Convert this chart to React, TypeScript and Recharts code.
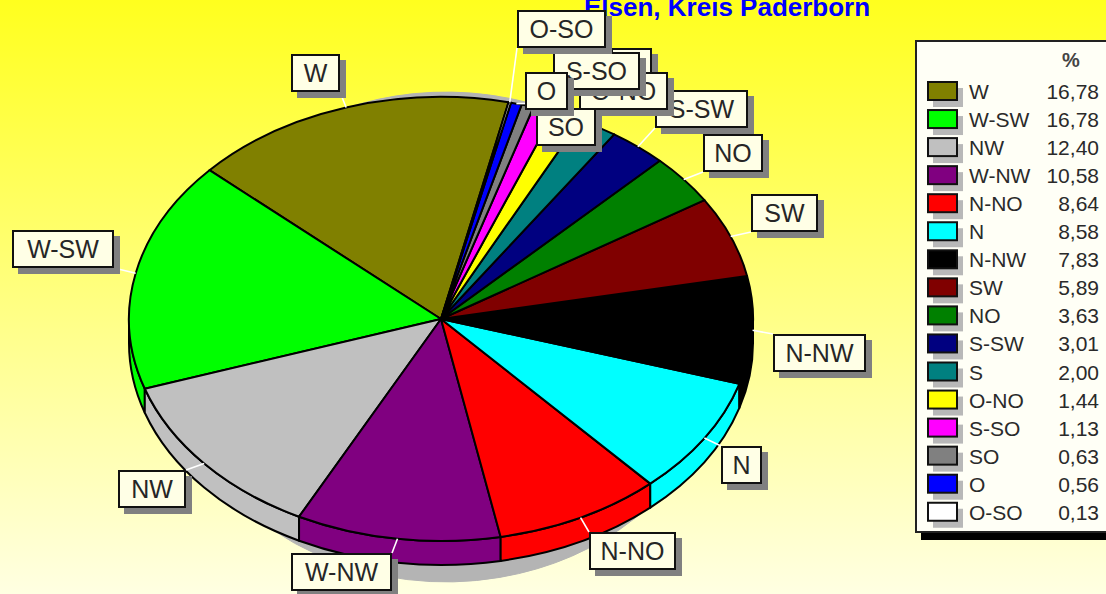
import { Legend, Pie, PieChart } from "recharts";

const CHART_WIDTH = 1106;
const CHART_HEIGHT = 594;
const FONT = '"Liberation Sans", Arial, sans-serif';

const categories = ["W", "W-SW", "NW", "W-NW", "N-NO", "N", "N-NW", "SW", "NO", "S-SW", "S", "O-NO", "S-SO", "SO", "O", "O-SO"];
const shares = [16.78, 16.78, 12.4, 10.58, 8.64, 8.58, 7.83, 5.89, 3.63, 3.01, 2.0, 1.44, 1.13, 0.63, 0.56, 0.13];
const shareLabels = ["16,78", "16,78", "12,40", "10,58", "8,64", "8,58", "7,83", "5,89", "3,63", "3,01", "2,00", "1,44", "1,13", "0,63", "0,56", "0,13"];
const colors = ["#808000", "#00ff00", "#c0c0c0", "#800080", "#ff0000", "#00ffff", "#000000", "#800000", "#008000", "#000080", "#008080", "#ffff00", "#ff00ff", "#808080", "#0000ff", "#ffffff"];

const title = "Elsen, Kreis Paderborn";

const rows = categories.map((name, i) => ({ name, value: shares[i], fill: colors[i] }));

// Where the callout boxes sit: the original shoves them around to avoid overlaps [x, y, width]
const labelBoxes: Record<string, [number, number, number]> = {
  W: [291, 54, 49],
  "W-SW": [12, 230, 102],
  NW: [118, 470, 68],
  "W-NW": [291, 553, 101],
  "N-NO": [589, 532, 87],
  N: [721, 446, 41],
  "N-NW": [773, 334, 93],
  SW: [751, 194, 67],
  NO: [703, 134, 60],
  "S-SW": [655, 90, 93],
  S: [611, 48, 41],
  "O-NO": [579, 72, 89],
  "S-SO": [553, 52, 87],
  SO: [536, 108, 60],
  O: [525, 72, 43],
  "O-SO": [517, 10, 89],
};
const LABEL_HEIGHT = 38;

// The pie is tilted, so the circle from Recharts is squashed into an ellipse
const SQUASH = 222 / 312;
const DEPTH = 24;

function onEllipse(cx: number, cy: number, rx: number, ry: number, deg: number) {
  const rad = (deg * Math.PI) / 180;
  return { x: cx + rx * Math.cos(rad), y: cy - ry * Math.sin(rad) };
}

function wedgePath(cx: number, cy: number, rx: number, ry: number, start: number, end: number) {
  const a = onEllipse(cx, cy, rx, ry, start);
  const b = onEllipse(cx, cy, rx, ry, end);
  const large = end - start > 180 ? 1 : 0;
  return `M${cx},${cy} L${a.x},${a.y} A${rx},${ry} 0 ${large} 0 ${b.x},${b.y} Z`;
}

function TopFace(props: any) {
  const { cx, cy, outerRadius, startAngle, endAngle, fill } = props;
  const d = wedgePath(cx, cy, outerRadius, outerRadius * SQUASH, startAngle, endAngle);
  return <path d={d} fill={fill} stroke="#000" strokeWidth={2} strokeLinejoin="round" />;
}

// Side wall, only for the part of the slice that faces the viewer (180-360 deg)
function SideWall(props: any) {
  const { cx, cy, outerRadius, startAngle, endAngle, fill } = props;
  const from = Math.max(startAngle, 180);
  const to = Math.min(endAngle, 360);
  if (to <= from) return <g />;
  const rx = outerRadius;
  const ry = outerRadius * SQUASH;
  const a = onEllipse(cx, cy, rx, ry, from);
  const b = onEllipse(cx, cy, rx, ry, to);
  const d = `M${a.x},${a.y} A${rx},${ry} 0 0 0 ${b.x},${b.y} L${b.x},${b.y + DEPTH} A${rx},${ry} 0 0 1 ${a.x},${a.y + DEPTH} Z`;
  return <path d={d} fill={fill} stroke="#000" strokeWidth={2} strokeLinejoin="round" />;
}

function DropShadow(props: any) {
  const { cx, cy, outerRadius, startAngle, endAngle } = props;
  const d = wedgePath(cx + 5, cy + 18, outerRadius * 0.9, outerRadius * 0.785, startAngle, endAngle);
  return <path d={d} fill="#b4b4b4" stroke="#b4b4b4" strokeWidth={1} />;
}

function Callout(props: any) {
  const { cx, cy, outerRadius, midAngle, name } = props;
  const [x, y, w] = labelBoxes[name];
  const edge = onEllipse(cx, cy, outerRadius, outerRadius * SQUASH, midAngle);
  // leader runs to the closest point of the box
  const endX = Math.min(Math.max(edge.x, x), x + w);
  const endY = Math.min(Math.max(edge.y, y), y + LABEL_HEIGHT);
  return (
    <g>
      <line x1={edge.x} y1={edge.y} x2={endX} y2={endY} stroke="#fff" strokeWidth={1.6} />
      <rect x={x + 6} y={y + 6} width={w} height={LABEL_HEIGHT} fill="#808080" />
      <rect x={x + 1} y={y + 1} width={w - 2} height={LABEL_HEIGHT - 2} fill="#ffffe6" stroke="#111" strokeWidth={2} />
      <text
        x={x + w / 2}
        y={y + 28}
        textAnchor="middle"
        fontFamily={FONT}
        fontSize={25}
        fill="#262626"
      >
        {name}
      </text>
    </g>
  );
}

function LegendBox() {
  return (
    <svg width={191} height={500} style={{ display: "block" }}>
      <rect x={6} y={8} width={185} height={492} fill="#000" />
      <rect x={1} y={1} width={195} height={491} fill="#fffff6" stroke="#222" strokeWidth={2} />
      <text x={156} y={27} textAnchor="middle" fontFamily={FONT} fontSize={20} fontWeight="bold" fill="#444">
        %
      </text>
      {categories.map((name, i) => {
        const top = 42 + i * 28.05;
        return (
          <g key={name}>
            <rect x={18} y={top + 6} width={30} height={19} fill="#b8b8b8" />
            <rect x={13} y={top} width={29} height={18} fill={colors[i]} stroke="#111" strokeWidth={2} />
            <text x={54} y={top + 17} fontFamily={FONT} fontSize={21} fill="#2a2a2a">
              {name}
            </text>
            <text x={184} y={top + 17} textAnchor="end" fontFamily={FONT} fontSize={21} fill="#2a2a2a">
              {shareLabels[i]}
            </text>
          </g>
        );
      })}
    </svg>
  );
}

export default function App() {
  return (
    <div
      style={{
        position: "fixed",
        left: 0,
        top: 0,
        width: CHART_WIDTH,
        height: CHART_HEIGHT,
        overflow: "hidden",
        background: "linear-gradient(to bottom, #ffff1e 0%, #ffffe2 100%)",
      }}
    >
      <PieChart width={CHART_WIDTH} height={CHART_HEIGHT} margin={{ top: 0, right: 0, bottom: 0, left: 0 }}>
        <text x={584} y={16} fontFamily={FONT} fontSize={26} fontWeight="bold" fill="#0000ff">
          {title}
        </text>
        <Legend
          content={() => <LegendBox />}
          layout="vertical"
          align="right"
          verticalAlign="top"
          wrapperStyle={{ position: "absolute", left: 915, top: 40, width: 191, height: 500 }}
        />
        <Pie
          data={rows}
          dataKey="value"
          nameKey="name"
          cx={441}
          cy={319}
          outerRadius={312}
          startAngle={77.5}
          endAngle={437.5}
          paddingAngle={0}
          shape={DropShadow}
          label={false}
          labelLine={false}
          legendType="none"
          isAnimationActive={false}
        />
        <Pie
          data={rows}
          dataKey="value"
          nameKey="name"
          cx={441}
          cy={319}
          outerRadius={312}
          startAngle={77.5}
          endAngle={437.5}
          shape={SideWall}
          label={false}
          labelLine={false}
          legendType="none"
          isAnimationActive={false}
        />
        <Pie
          data={rows}
          dataKey="value"
          nameKey="name"
          cx={441}
          cy={319}
          outerRadius={312}
          startAngle={77.5}
          endAngle={437.5}
          shape={TopFace}
          label={Callout}
          labelLine={false}
          isAnimationActive={false}
        />
      </PieChart>
    </div>
  );
}
